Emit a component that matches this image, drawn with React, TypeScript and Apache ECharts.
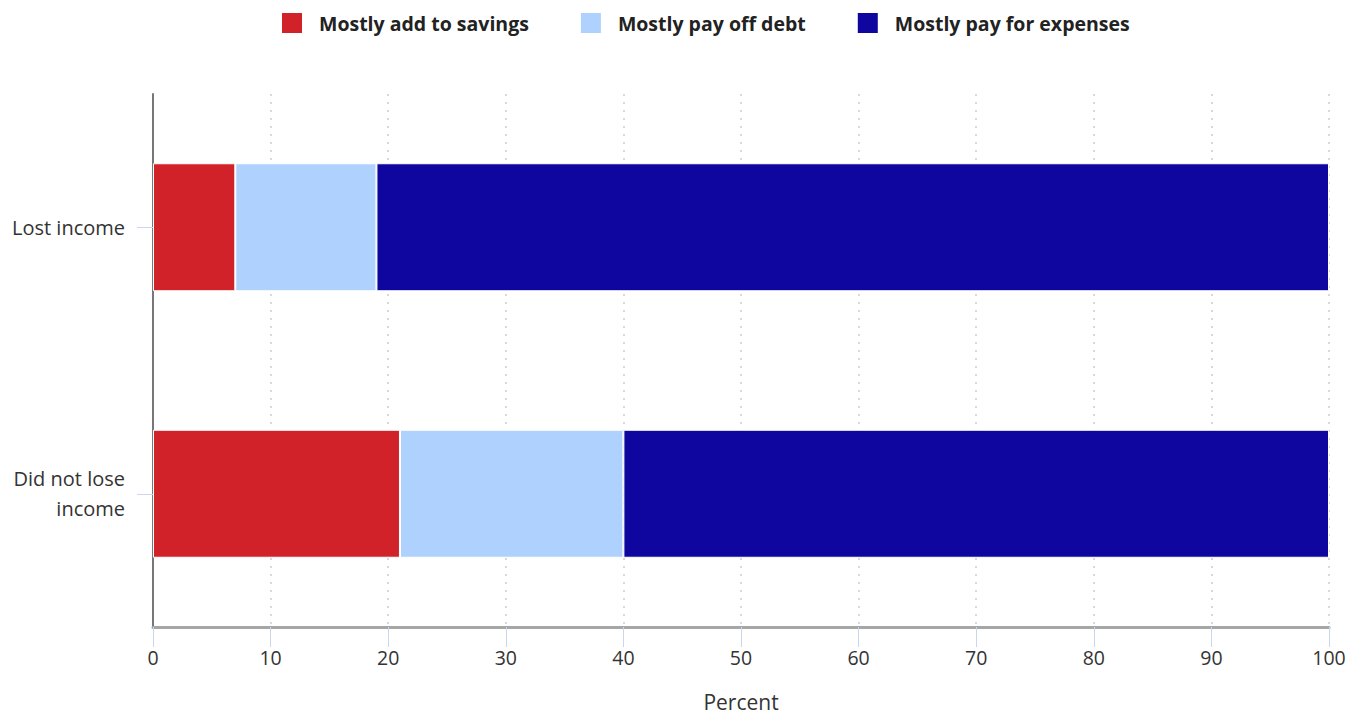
import React, { useEffect, useRef } from "react";
import * as echarts from "echarts";

const categories = ["Lost income", "Did not lose\nincome"];
const seriesNames = ["Mostly add to savings", "Mostly pay off debt", "Mostly pay for expenses"];
const savings = [7, 21];
const debt = [12, 19];
const expenses = [81, 60];
const colors = ["#d22229", "#aed1fd", "#0f06a0"];
const xTicks = [0, 10, 20, 30, 40, 50, 60, 70, 80, 90, 100];

export default function App() {
  const ref = useRef<HTMLDivElement>(null);
  useEffect(() => {
    if (!ref.current) return;
    const chart = echarts.init(ref.current, undefined, { renderer: "svg" });
    const font = "'Open Sans', 'DejaVu Sans', sans-serif";
    const values = [savings, debt, expenses];
    chart.setOption({
      animation: false,
      textStyle: { fontFamily: font },
      legend: {
        top: 6,
        left: 275,
        itemWidth: 22,
        itemHeight: 22,
        itemGap: 50,
        icon: "rect",
        textStyle: { fontSize: 19.5, lineHeight: 22, fontWeight: "bold", color: "#222", fontFamily: font, padding: [0, 0, 0, 11] },
        data: seriesNames,
      },
      grid: { left: 153, right: 30, top: 94, bottom: 85, containLabel: false },
      xAxis: {
        type: "value",
        min: 0,
        max: 100,
        interval: 10,
        name: "Percent",
        nameLocation: "middle",
        nameGap: 64,
        nameTextStyle: { fontSize: 21, color: "#333", fontFamily: font },
        axisLine: { show: true, lineStyle: { color: "#a6a6a6", width: 3 } },
        axisTick: { show: true, length: 20, lineStyle: { color: "#ccd6eb", width: 1 } },
        axisLabel: { fontSize: 19.5, color: "#333", margin: 20, fontFamily: font, formatter: (v: number) => (xTicks.includes(v) ? String(v) : "") },
        splitLine: { show: true, lineStyle: { color: "#d9d9d9", type: [2, 6], width: 2 } },
      },
      yAxis: {
        type: "category",
        inverse: true,
        data: categories,
        axisLine: { show: true, lineStyle: { color: "#777", width: 2 } },
        axisTick: { show: true, alignWithLabel: true, length: 16, lineStyle: { color: "#ccd6eb", width: 1 } },
        axisLabel: { fontSize: 20, color: "#333", margin: 28, lineHeight: 30, align: "right", fontFamily: font },
        splitLine: { show: false },
      },
      series: seriesNames.map((name, i) => ({
        name,
        type: "bar",
        stack: "total",
        barWidth: 128,
        itemStyle: { color: colors[i], borderColor: "#ffffff", borderWidth: 1 },
        data: values[i],
      })),
    });
    return () => chart.dispose();
  }, []);
  return <div ref={ref} style={{ width: 1359, height: 717, position: "absolute", left: 0, top: 0, background: "#fff" }} />;
}
